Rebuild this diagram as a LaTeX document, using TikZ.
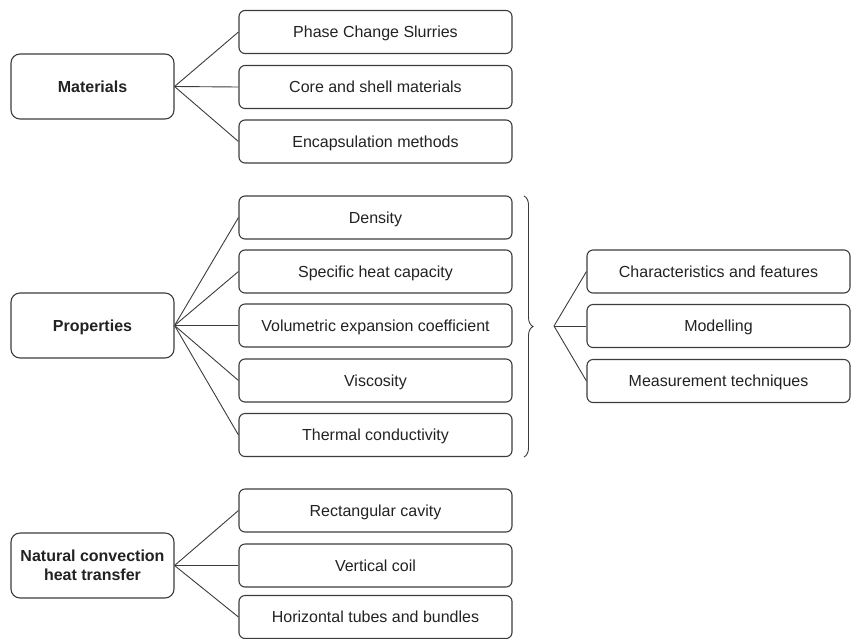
\documentclass[tikz,border=0pt]{standalone}
\usepackage{fontspec}
\setmainfont{Liberation Sans}
\usepackage{tikz}
\usetikzlibrary{decorations.pathreplacing}
\definecolor{edge}{HTML}{3C3C3C}
\definecolor{ink}{HTML}{222222}
\tikzstyle{topic} = [draw=edge,line width=1.1pt,rounded corners=9pt,minimum width=163pt,minimum height=65pt,inner sep=2pt,align=center,text height=11.5pt,text depth=0pt,font=\fontsize{16}{19}\selectfont\bfseries,text=ink]
\tikzstyle{item} = [draw=edge,line width=1.1pt,rounded corners=6pt,minimum width=273pt,minimum height=43pt,inner sep=2pt,text height=11.5pt,text depth=0pt,font=\fontsize{16}{19}\selectfont,text=ink]
\tikzstyle{link} = [draw=edge,line width=0.9pt]

\begin{document}
\begin{tikzpicture}[x=1pt,y=-1pt]
  \useasboundingbox (0,0) rectangle (851,638);

  \node[topic] (M) at (92.5,86.5) {Materials};
  \node[topic] (P) at (92.5,325.5) {Properties};
  \node[topic,text height=30pt] (N) at (92.5,565.5) {Natural convection\\heat transfer};

  \node[item] (M1) at (375.5,32) {Phase Change Slurries};
  \node[item] (M2) at (375.5,87) {Core and shell materials};
  \node[item] (M3) at (375.5,141.5) {Encapsulation methods};

  \node[item] (P1) at (375.5,217.5) {Density};
  \node[item] (P2) at (375.5,271.5) {Specific heat capacity};
  \node[item] (P3) at (375.5,325.5) {Volumetric expansion coefficient};
  \node[item] (P4) at (375.5,380.5) {Viscosity};
  \node[item] (P5) at (375.5,435) {Thermal conductivity};

  \node[item] (N1) at (375.5,510.5) {Rectangular cavity};
  \node[item] (N2) at (375.5,565.5) {Vertical coil};
  \node[item] (N3) at (375.5,617) {Horizontal tubes and bundles};

  \node[item,minimum width=263pt] (R1) at (718.5,271.5) {Characteristics and features};
  \node[item,minimum width=263pt] (R2) at (718.5,326) {Modelling};
  \node[item,minimum width=263pt] (R3) at (718.5,381) {Measurement techniques};

  \coordinate (bt) at (524,196);
  \coordinate (bb) at (524,457);
  \coordinate (tip) at (554,326);
  \draw[edge,line width=0.9pt,decorate,decoration={brace,amplitude=9pt}] (bt) -- (bb);

  \foreach \n in {M1,M2,M3}
    \draw[link] (M.east) -- (\n.west);
  \foreach \n in {P1,P2,P3,P4,P5}
    \draw[link] (P.east) -- (\n.west);
  \foreach \n in {N1,N2,N3}
    \draw[link] (N.east) -- (\n.west);
  \foreach \n in {R1,R2,R3}
    \draw[link] (tip) -- (\n.west);
\end{tikzpicture}
\end{document}
